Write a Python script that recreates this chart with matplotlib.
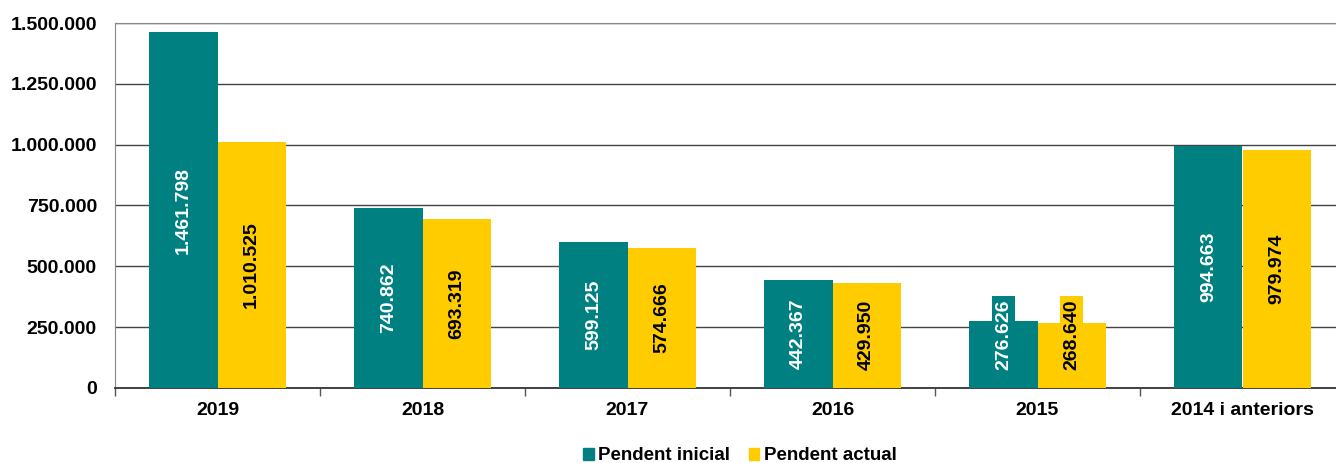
import numpy as np
import matplotlib.pyplot as plt
from matplotlib.patches import Patch

plt.rcParams['font.family'] = ['Liberation Sans', 'DejaVu Sans']
plt.rcParams['font.weight'] = 'bold'

categories = ['2019', '2018', '2017', '2016', '2015', '2014 i anteriors']
pendent_inicial = [1461798, 740862, 599125, 442367, 276626, 994663]
pendent_actual = [1010525, 693319, 574666, 429950, 268640, 979974]
yticks = [0, 250000, 500000, 750000, 1000000, 1250000, 1500000]

teal = '#008080'
yellow = '#FFCC00'

def fmt(v):
    return f'{v:,}'.replace(',', '.')

fig = plt.figure(figsize=(13.36, 4.63), dpi=100)
ax = fig.add_axes([115 / 1336, 1 - 388 / 463, 1230 / 1336, 365 / 463])

x = np.arange(len(categories))
w = 0.332
b1 = ax.bar(x - w / 2, pendent_inicial, w, color=teal, zorder=3)
b2 = ax.bar(x + w / 2, pendent_actual, w, color=yellow, zorder=3)

# label sits in the middle of the bar, pushed up if the bar is too short
for bars, vals, bg, fg in [(b1, pendent_inicial, teal, 'white'), (b2, pendent_actual, yellow, 'black')]:
    for r, v in zip(bars, vals):
        ax.text(r.get_x() + r.get_width() / 2, max(v / 2, 220000), fmt(v), rotation=90,
                ha='center', va='center', color=fg, fontsize=14, fontweight='bold',
                zorder=4, bbox=dict(facecolor=bg, edgecolor='none', pad=2))

ax.set_xlim(-0.5, len(categories) - 0.5)
ax.set_ylim(0, 1500000)
ax.set_yticks(yticks)
ax.set_yticklabels([fmt(v) for v in yticks], fontsize=14, fontweight='bold')
ax.yaxis.grid(True, color='#444444', linewidth=1, zorder=0)
ax.tick_params(axis='y', length=0, pad=13)

ax.set_xticks(np.arange(len(categories) + 1) - 0.5)
ax.set_xticklabels([])
ax.tick_params(axis='x', which='major', length=6, width=1, color='#555555', direction='out')
ax.set_xticks(x, minor=True)
ax.set_xticklabels(categories, minor=True, fontsize=14, fontweight='bold')
ax.tick_params(axis='x', which='minor', length=0, pad=10)

ax.spines['left'].set_color('#888888')
ax.spines['top'].set_color('#888888')
ax.spines['right'].set_visible(False)
ax.spines['bottom'].set_color('#333333')
ax.spines['bottom'].set_linewidth(1.3)

handles = [Patch(color=teal, label='Pendent inicial'), Patch(color=yellow, label='Pendent actual')]
fig.legend(handles=handles, loc='center', bbox_to_anchor=(740 / 1336, 1 - 456 / 463),
           ncol=2, frameon=False, handlelength=0.55, handleheight=0.55,
           handletextpad=0.25, columnspacing=1.0, prop={'weight': 'bold', 'size': 13.5})

fig.savefig('out.png', dpi=100)
